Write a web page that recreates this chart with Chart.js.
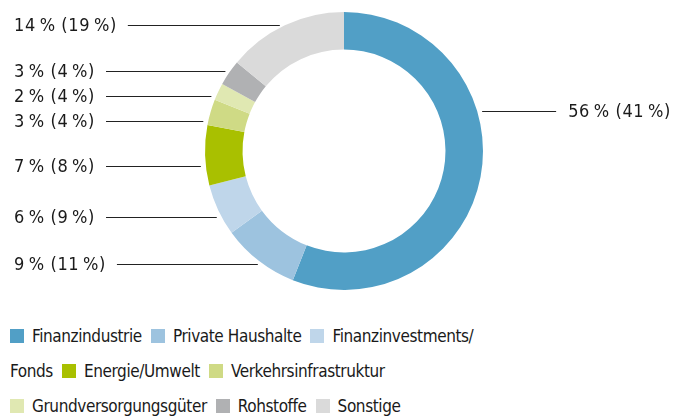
<!DOCTYPE html>
<html lang="de">
<head>
<meta charset="utf-8">
<script src="https://cdn.jsdelivr.net/npm/chart.js@4"></script>
<style>
  html, body { margin: 0; padding: 0; background: #fff; }
  #wrap { position: relative; width: 688px; height: 417px; }
  #chart-box { position: absolute; left: 0; top: 0; width: 688px; height: 300px; }
  #legend {
    position: absolute; left: 10px; top: 319px; width: 500px;
    font: 17px "DejaVu Sans Condensed", "DejaVu Sans", sans-serif;
    letter-spacing: -0.4px;
    line-height: 35px; color: #1a1a1a;
  }
  #legend .nw { white-space: nowrap; }
  #legend .box {
    display: inline-block; width: 14px; height: 14px;
    margin-right: 8px; vertical-align: -1px;
  }
  #legend .end { margin-right: 9px; }
</style>
</head>
<body>
<div id="wrap">
  <div id="chart-box"><canvas id="share-chart"></canvas></div>
  <div id="legend"></div>
</div>
<script>
// sectors, share this year and (previous year) in percent
const sectors = [
  "Finanzindustrie",
  "Private Haushalte",
  "Finanzinvestments/Fonds",
  "Energie/Umwelt",
  "Verkehrsinfrastruktur",
  "Grundversorgungsgüter",
  "Rohstoffe",
  "Sonstige",
];
const shares = [56, 9, 6, 7, 3, 2, 3, 14];
const previousShares = [41, 11, 9, 8, 4, 4, 4, 19];

const colors = [
  "#519fc6",
  "#9dc3df",
  "#bfd6ea",
  "#a9c000",
  "#cfda85",
  "#e0e8b2",
  "#b0b1b3",
  "#dadada",
];

const labelFont = '18px "DejaVu Sans Condensed", "DejaVu Sans", sans-serif';

function calloutText(i) {
  return `${shares[i]}\u2009%\u00a0(${previousShares[i]}\u2009%)`;
}

// labels with a connector line, placed at the slice middle and pushed apart
const callouts = {
  id: "callouts",
  afterDraw(chart, args, opts) {
    const ctx = chart.ctx;
    const arcs = chart.getDatasetMeta(0).data;
    const items = arcs.map((arc, i) => {
      const mid = (arc.startAngle + arc.endAngle) / 2;
      return {
        i,
        y: arc.y + Math.sin(mid) * arc.outerRadius,
        right: Math.cos(mid) >= 0,
        cx: arc.x,
        cy: arc.y,
        r: arc.outerRadius,
      };
    });

    const left = items.filter((d) => !d.right).sort((a, b) => a.y - b.y);
    for (let k = 1; k < left.length; k++) {
      left[k].y = Math.max(left[k].y, left[k - 1].y + opts.minGap);
    }
    items.forEach((d) => (d.y += opts.nudge[d.i] || 0));

    ctx.save();
    ctx.font = labelFont;
    ctx.letterSpacing = opts.tracking;
    ctx.fillStyle = "#1a1a1a";
    ctx.strokeStyle = "#222";
    ctx.lineWidth = 1;
    ctx.textBaseline = "middle";
    ctx.textAlign = "left";

    items.forEach((d) => {
      const text = calloutText(d.i);
      const y = Math.round(d.y) + 0.5;
      const dy = d.y - d.cy;
      const edge = Math.sqrt(Math.max(d.r * d.r - dy * dy, 0));
      let x0, x1, tx;
      if (d.right) {
        x0 = d.cx + edge + opts.gap;
        x1 = x0 + opts.rightLine;
        tx = x1 + opts.textGap;
      } else {
        tx = opts.leftX;
        x0 = tx + ctx.measureText(text).width + opts.textGap - 1;
        x1 = d.cx - edge - opts.gap;
      }
      ctx.beginPath();
      ctx.moveTo(x0, y);
      ctx.lineTo(x1, y);
      ctx.stroke();
      ctx.fillText(text, tx, y + 1);
    });
    ctx.restore();
  },
};

const ctx = document.getElementById("share-chart").getContext("2d");
const chart = new Chart(ctx, {
  type: "doughnut",
  data: {
    labels: sectors,
    datasets: [
      {
        data: shares,
        backgroundColor: colors,
        borderWidth: 0,
      },
    ],
  },
  options: {
    responsive: true,
    maintainAspectRatio: false,
    animation: false,
    cutout: "73%",
    layout: { padding: { top: 12, bottom: 10, left: 0, right: 0 } },
    plugins: {
      legend: { display: false },
      tooltip: { enabled: false },
      callouts: {
        minGap: 25,
        nudge: { 0: -66, 3: 11, 2: 7, 1: 3, 6: -2, 5: -2, 4: -2 },
        gap: 5,
        rightLine: 74,
        textGap: 12,
        leftX: 14,
        tracking: "0.6px",
      },
    },
  },
  plugins: [callouts],
});

// legend as flowing text, so long names can wrap after a slash
const legend = document.getElementById("legend");
legend.innerHTML = sectors
  .map((name, i) => {
    const parts = name.split("/");
    return parts
      .map((p, k) => {
        const txt = k < parts.length - 1 ? p + "/" : p;
        const box =
          k === 0
            ? `<span class="box" style="background:${colors[i]}"></span>`
            : "";
        const cls = k === parts.length - 1 ? "nw end" : "nw";
        return `<span class="${cls}">${box}${txt}</span>`;
      })
      .join("\u200b");
  })
  .join("\u200b");
</script>
</body>
</html>
